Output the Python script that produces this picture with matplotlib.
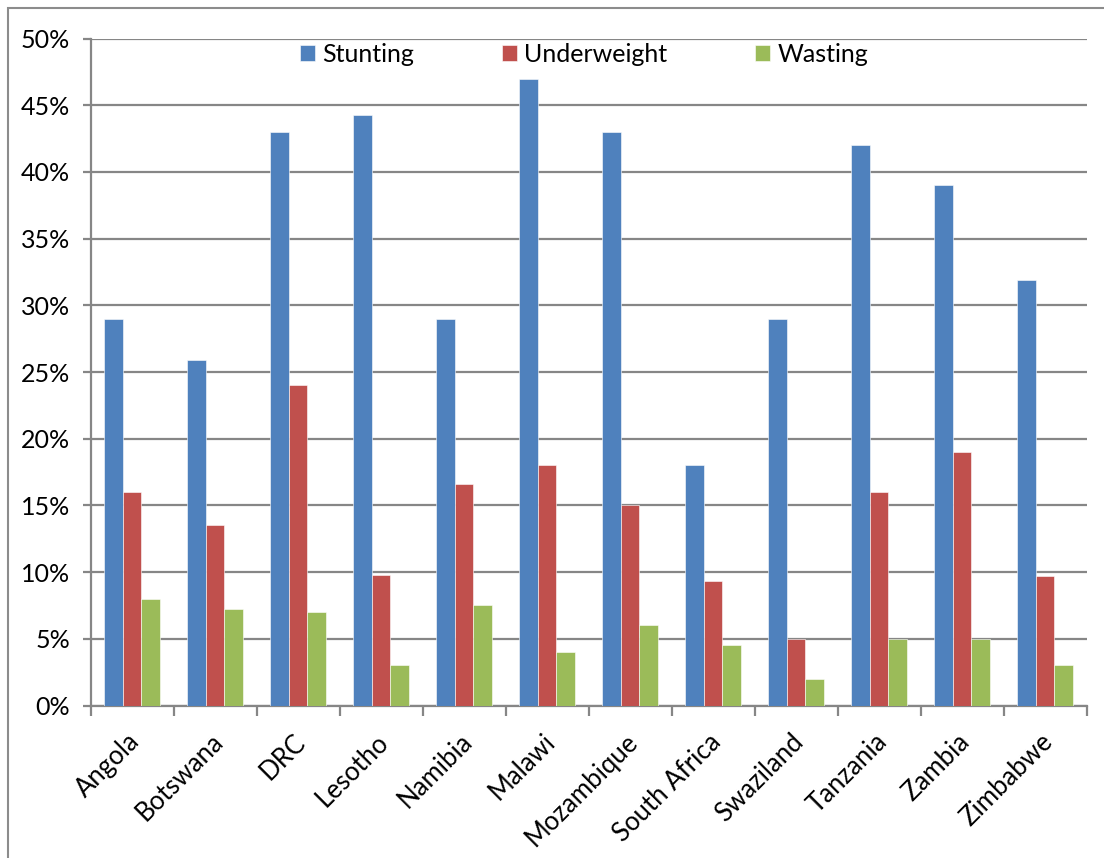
import matplotlib
matplotlib.use("Agg")
import matplotlib.pyplot as plt
import matplotlib.transforms as mtransforms
import numpy as np
from matplotlib.patches import Rectangle
from matplotlib.ticker import FixedLocator, PercentFormatter

countries = ["Angola", "Botswana", "DRC", "Lesotho", "Namibia", "Malawi",
             "Mozambique", "South Africa", "Swaziland", "Tanzania", "Zambia", "Zimbabwe"]
stunting = [29, 25.9, 43, 44.3, 29, 47, 43, 18, 29, 42, 39, 31.9]
underweight = [16, 13.5, 24, 9.8, 16.6, 18, 15, 9.3, 5, 16, 19, 9.7]
wasting = [8, 7.2, 7, 3, 7.5, 4, 6, 4.5, 2, 5, 5, 3]
series_names = ["Stunting", "Underweight", "Wasting"]
colors = ["#4F81BD", "#C0504D", "#9BBB59"]
yticks = list(range(0, 51, 5))

plt.rcParams["font.family"] = ["Lato", "DejaVu Sans"]
W, H = 1104, 858
fig = plt.figure(figsize=(W / 100, H / 100), dpi=100)
fig.patch.set_facecolor("white")

# chart-area frame (runs off the right and bottom edges)
fig.patches.append(Rectangle((7.5 / W, 0 - 0.01), 1.1, 1 - 8 / H + 0.01,
                             transform=fig.transFigure, fill=False,
                             edgecolor="#8c8c8c", linewidth=1.5, zorder=0))

left, right, top, bottom = 90.7, 1086.7, 38.6, 705.5
ax = fig.add_axes([left / W, 1 - bottom / H, (right - left) / W, (bottom - top) / H])

x = np.arange(len(countries))
bw = 0.223
for i, (vals, name, c) in enumerate(zip([stunting, underweight, wasting], series_names, colors)):
    ax.bar(x + (i - 1) * bw, vals, width=bw, color=c, label=name,
           edgecolor="white", linewidth=0.4, zorder=3)

ax.set_xlim(-0.5, len(countries) - 0.5)
ax.set_ylim(0, 50)
grid_c = "#868686"
ax.yaxis.set_major_locator(FixedLocator(yticks))
ax.yaxis.set_major_formatter(PercentFormatter(decimals=0))
ax.grid(axis="y", color=grid_c, linewidth=1.6, zorder=0)
ax.set_axisbelow(True)
for s in ["top", "right"]:
    ax.spines[s].set_visible(False)
for s in ["left", "bottom"]:
    ax.spines[s].set_color(grid_c)
    ax.spines[s].set_linewidth(1.6)

ax.tick_params(axis="y", length=6, width=1.6, color=grid_c, labelsize=18, pad=9,
               labelcolor="black")
ax.set_xticks(x)
ax.set_xticklabels(countries, rotation=45, ha="right", va="top",
                   rotation_mode="anchor", fontsize=18.5)
ax.tick_params(axis="x", which="major", length=0, pad=17)
shift = mtransforms.ScaledTranslation(-5 / 100, 0, fig.dpi_scale_trans)
for lab in ax.get_xticklabels():
    lab.set_transform(lab.get_transform() + shift)
ax.set_xticks(np.arange(-0.5, len(countries)), minor=True)
ax.tick_params(axis="x", which="minor", length=7, width=1.6, color=grid_c)

leg = ax.legend(loc="center", bbox_to_anchor=(584 / W, 1 - 54 / H),
                bbox_transform=fig.transFigure, ncol=3, frameon=False,
                fontsize=18, handlelength=0.6, handleheight=0.6,
                handletextpad=0.3, columnspacing=3.5)

fig.savefig("out.png", dpi=100, facecolor="white")
